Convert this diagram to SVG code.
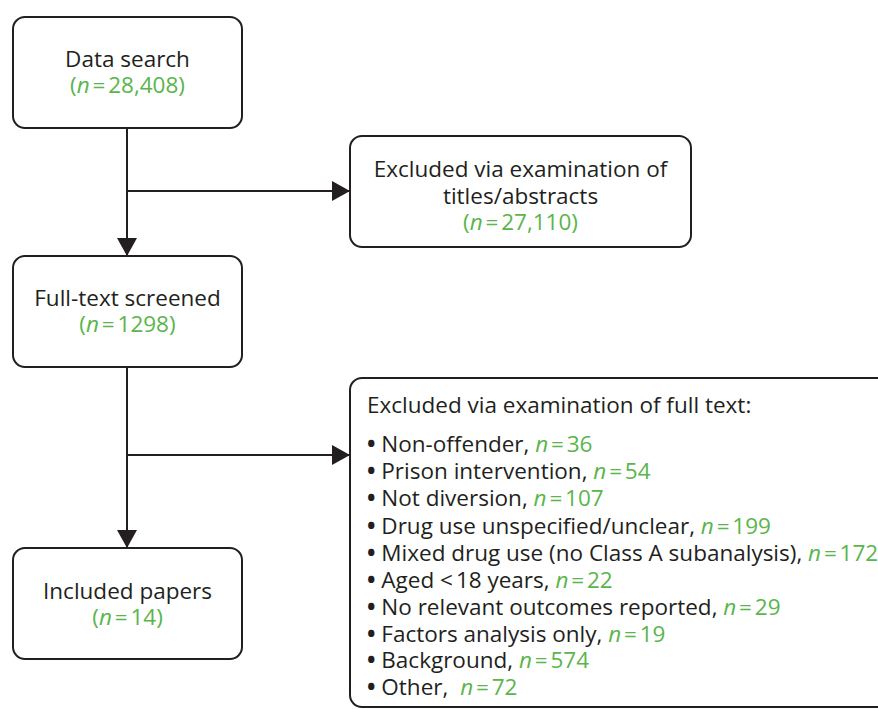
<svg xmlns="http://www.w3.org/2000/svg" width="878" height="709" viewBox="0 0 878 709">
<style>
.box{fill:#fff;stroke:#231f20;stroke-width:2}
.t{font-family:"Open Sans","Noto Sans",sans-serif;font-size:22.5px;fill:#231f20}
.c{text-anchor:middle}
.g{fill:#5ab54b;word-spacing:-3px}
.i{font-style:italic}
.b{font-weight:bold}
.ln{stroke:#231f20;stroke-width:2;fill:none}
</style>
<defs>
<marker id="a" viewBox="0 0 18 20" refX="18" refY="10" markerWidth="18" markerHeight="20" orient="auto" markerUnits="userSpaceOnUse">
<path d="M0,0 L18,10 L0,20 Z" fill="#231f20"/>
</marker>
</defs>
<g id="connectors">
<line class="ln" x1="127" y1="128" x2="127" y2="256" marker-end="url(#a)"/>
<line class="ln" x1="127" y1="191" x2="350" y2="191" marker-end="url(#a)"/>
<line class="ln" x1="127" y1="367" x2="127" y2="548" marker-end="url(#a)"/>
<line class="ln" x1="127" y1="455" x2="350" y2="455" marker-end="url(#a)"/>
</g>
<g id="data-search">
<rect class="box" x="13" y="17" width="229" height="111" rx="12"/>
<text class="t c" x="127.5" y="67">Data search</text>
<text class="t c g" x="127.5" y="93">(<tspan class="i">n</tspan> = 28,408)</text>
</g>
<g id="excluded-titles">
<rect class="box" x="350" y="136" width="341" height="111" rx="12"/>
<text class="t c" x="520.5" y="177">Excluded via examination of</text>
<text class="t c" x="520.5" y="204">titles/abstracts</text>
<text class="t c g" x="520.5" y="230">(<tspan class="i">n</tspan> = 27,110)</text>
</g>
<g id="full-text">
<rect class="box" x="13" y="256" width="229" height="111" rx="12"/>
<text class="t c" x="127.5" y="306">Full-text screened</text>
<text class="t c g" x="127.5" y="332">(<tspan class="i">n</tspan> = 1298)</text>
</g>
<g id="included">
<rect class="box" x="13" y="548" width="229" height="111" rx="12"/>
<text class="t c" x="127.5" y="599">Included papers</text>
<text class="t c g" x="127.5" y="625">(<tspan class="i">n</tspan> = 14)</text>
</g>
<g id="excluded-fulltext">
<rect class="box" x="350" y="378" width="560" height="329" rx="12"/>
<text class="t" x="367" y="413">Excluded via examination of full text:</text>
<text class="t" x="367" y="452"><tspan class="b">•</tspan> Non-offender, <tspan class="g"><tspan class="i">n</tspan> = 36</tspan></text>
<text class="t" x="367" y="479"><tspan class="b">•</tspan> Prison intervention, <tspan class="g"><tspan class="i">n</tspan> = 54</tspan></text>
<text class="t" x="367" y="506"><tspan class="b">•</tspan> Not diversion, <tspan class="g"><tspan class="i">n</tspan> = 107</tspan></text>
<text class="t" x="367" y="534"><tspan class="b">•</tspan> Drug use unspecified/unclear, <tspan class="g"><tspan class="i">n</tspan> = 199</tspan></text>
<text class="t" x="367" y="561"><tspan class="b">•</tspan> Mixed drug use (no Class A subanalysis), <tspan class="g"><tspan class="i">n</tspan> = 172</tspan></text>
<text class="t" x="367" y="588"><tspan class="b">•</tspan> Aged &lt;<tspan dx="3">18 years, </tspan><tspan class="g"><tspan class="i">n</tspan> = 22</tspan></text>
<text class="t" x="367" y="615"><tspan class="b">•</tspan> No relevant outcomes reported, <tspan class="g"><tspan class="i">n</tspan> = 29</tspan></text>
<text class="t" x="367" y="642"><tspan class="b">•</tspan> Factors analysis only, <tspan class="g"><tspan class="i">n</tspan> = 19</tspan></text>
<text class="t" x="367" y="668"><tspan class="b">•</tspan> Background, <tspan class="g"><tspan class="i">n</tspan> = 574</tspan></text>
<text class="t" x="367" y="695"><tspan class="b">•</tspan> Other, <tspan class="g" dx="6"><tspan class="i">n</tspan> = 72</tspan></text>
</g>
</svg>
